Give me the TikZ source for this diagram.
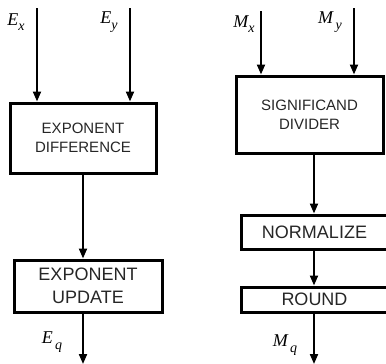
\documentclass[tikz,border=0pt]{standalone}
\usepackage{fontspec}
\setmainfont{Liberation Serif}
\setsansfont{Liberation Sans}
\usepackage{tikz}
\usetikzlibrary{positioning, arrows.meta, calc}
\newcommand{\sig}[2]{{\rmfamily\itshape #1\raisebox{-0.3em}{\fontsize{14}{14}\selectfont #2}}}

\begin{document}
\begin{tikzpicture}[x=1pt, y=-1pt, >={Triangle[length=10pt, width=8pt]},
      unit/.style ={draw, line width=3pt, align=center, inner sep=0pt, text=black!85,
                    font=\sffamily\fontsize{15}{19}\selectfont},
      bigunit/.style={unit, font=\sffamily\fontsize{18}{23}\selectfont},
      wire/.style ={line width=2pt},
      lbl/.style ={font=\rmfamily\fontsize{18}{20}\selectfont, inner sep=0pt}]
    \useasboundingbox (0,0) rectangle (386,364);
    \clip (0,0) rectangle (386,364);
    % --- LEFT: exponent path ---
    \node[unit, minimum width=146pt, minimum height=70pt] (diff) at (83,138) {EXPONENT\\DIFFERENCE};
    \node[bigunit, minimum width=148pt, minimum height=52pt] (upd) at (88,286) {EXPONENT\\UPDATE};
    \coordinate (ex) at (37,8);
    \coordinate (ey) at (130,8);
    \coordinate (eq) at (83,364);
    \node[lbl] (exl) at (16,22) {\sig{E}{x}};
    \node[lbl] (eyl) at (109,22) {\sig{E}{y}};
    \node[lbl] (eql) at (52,342) {\sig{E}{\,q}};
    \draw[wire, ->] (ex) -- (ex |- diff.north);
    \draw[wire, ->] (ey) -- (ey |- diff.north);
    \draw[wire, ->] (diff.south -| eq) -- (upd.north -| eq);
    \draw[wire, ->] (upd.south -| eq) -- (eq);
    % --- RIGHT: significand path ---
    \node[unit, minimum width=147pt, minimum height=77pt] (div) at (309.5,114.5) {SIGNIFICAND\\DIVIDER};
    \node[bigunit, minimum width=147pt, minimum height=34pt] (norm) at (314.5,232) {NORMALIZE};
    \node[bigunit, minimum width=147pt, minimum height=25pt] (rnd) at (314.5,299.5) {ROUND};
    \coordinate (mx) at (261,11);
    \coordinate (my) at (354,8);
    \coordinate (mq) at (314,364);
    \node[lbl] (mxl) at (244,24) {\sig{M}{x}};
    \node[lbl] (myl) at (330,22) {\sig{M}{\,y}};
    \node[lbl] (mql) at (285,345) {\sig{M}{\,q}};
    \draw[wire, ->] (mx) -- (mx |- div.north);
    \draw[wire, ->] (my) -- (my |- div.north);
    \draw[wire, ->] (div.south -| mq) -- (norm.north -| mq);
    \draw[wire, ->] (norm.south -| mq) -- (rnd.north -| mq);
    \draw[wire, ->] (rnd.south -| mq) -- (mq);
  \end{tikzpicture}
\end{document}
